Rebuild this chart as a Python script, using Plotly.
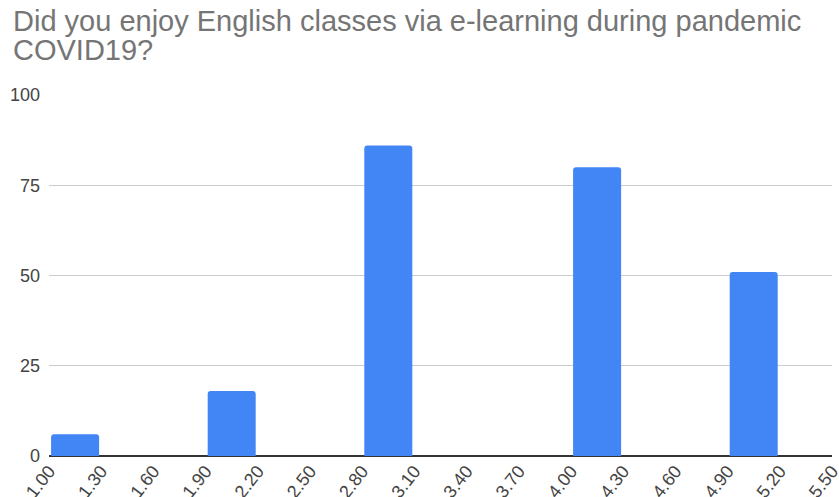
import plotly.graph_objects as go

# Histogram bins (start, end) and counts
bin_starts = [1.00, 1.30, 1.60, 1.90, 2.20, 2.50, 2.80, 3.10, 3.40, 3.70, 4.00, 4.30, 4.60, 4.90, 5.20]
bin_width = 0.30
counts = [6, 0, 0, 18, 0, 0, 86, 0, 0, 0, 80, 0, 0, 51, 0]
tick_values = [1.00, 1.30, 1.60, 1.90, 2.20, 2.50, 2.80, 3.10, 3.40, 3.70, 4.00, 4.30, 4.60, 4.90, 5.20, 5.50]
tick_labels = [f"{v:.2f}" for v in tick_values]
y_ticks = [0, 25, 50, 75, 100]
title_lines = ["Did you enjoy English classes via e-learning during pandemic", "COVID19?"]

FONT = "Liberation Sans, Arial, sans-serif"
centers = [s + bin_width / 2 for s in bin_starts]

fig = go.Figure()
fig.add_trace(go.Bar(
    x=centers,
    y=counts,
    width=[bin_width * 0.92] * len(centers),
    marker=dict(color="#4285f4", line=dict(width=0)),
    hoverinfo="x+y",
))

# Title as two lines (pixel positions relative to plot area: left=49, top=95, h=361, w=783)
for i, line in enumerate(title_lines):
    baseline = 33 + 29 * i
    fig.add_annotation(
        text=line,
        xref="paper", yref="paper",
        x=(11 - 49) / 783, y=(456 - baseline) / 361,
        xanchor="left", yanchor="bottom",
        yshift=-6,
        align="left",
        showarrow=False,
        font=dict(family=FONT, size=29, color="#757575"),
    )

fig.update_layout(
    width=839,
    height=497,
    paper_bgcolor="white",
    plot_bgcolor="white",
    margin=dict(l=49, r=7, t=95, b=41, autoexpand=False),
    barcornerradius=3,
    showlegend=False,
    font=dict(family=FONT, color="#444444"),
    xaxis=dict(
        range=[1.0, 5.5],
        tickmode="array",
        tickvals=tick_values,
        ticktext=tick_labels,
        tickangle=-52,
        tickfont=dict(size=18, color="#444444"),
        ticklabeloverflow="allow",
        showgrid=False,
        zeroline=False,
        showline=False,
        ticks="",
        automargin=False,
    ),
    yaxis=dict(
        range=[0, 100],
        tickmode="array",
        tickvals=y_ticks,
        tickfont=dict(size=18, color="#444444"),
        showgrid=True,
        gridcolor="#cccccc",
        gridwidth=1,
        zeroline=True,
        zerolinecolor="#333333",
        zerolinewidth=1.5,
        ticks="",
        ticklabelstandoff=8,
        automargin=False,
    ),
)

fig.write_html(
    "out.html",
    config={"displayModeBar": False},
    post_script="document.body.style.margin='0';document.body.style.overflow='hidden';",
)
